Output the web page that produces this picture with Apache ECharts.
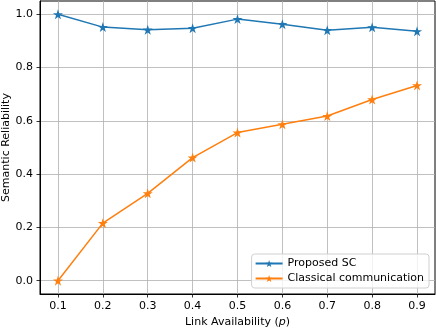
<!DOCTYPE html>
<html>
<head>
<meta charset="utf-8">
<script src="https://cdn.jsdelivr.net/npm/echarts@6/dist/echarts.min.js"></script>
<style>
    html, body { margin: 0; padding: 0; background: #fff; }
    #chart { width: 436px; height: 330px; }
</style>
</head>
<body>
<div id="chart"></div>
<script>
    // link availability p
    const xData = [0.1, 0.2, 0.3, 0.4, 0.5, 0.6, 0.7, 0.8, 0.9]
    const proposedSC = [1.0, 0.952, 0.942, 0.948, 0.982, 0.963, 0.940, 0.951, 0.936]
    const classical = [0.0, 0.216, 0.328, 0.462, 0.556, 0.587, 0.618, 0.680, 0.733]
    const xTicks = [0.1, 0.2, 0.3, 0.4, 0.5, 0.6, 0.7, 0.8, 0.9]
    const yTicks = [0.0, 0.2, 0.4, 0.6, 0.8, 1.0]

    const star = 'path://M50 0 L61.23 34.55 L97.55 34.55 L68.17 55.9 L79.39 90.45 L50 69.1 L20.61 90.45 L31.83 55.9 L2.45 34.55 L38.77 34.55 Z'
    const font = 'DejaVu Sans'
    const fs = 11

    function pairs(xs, ys) {
        return xs.map((x, i) => [x, ys[i]])
    }

    const axisCommon = {
        axisLine: { show: true, onZero: false, lineStyle: { color: '#000', width: 1 } },
        axisTick: { show: true, inside: false, length: 3.5, lineStyle: { color: '#000', width: 0.8 } },
        splitLine: { show: true, lineStyle: { color: '#b0b0b0', width: 0.8 } },
        axisLabel: { color: '#000', fontFamily: font, fontSize: fs, formatter: v => v.toFixed(1) },
        nameTextStyle: { color: '#000', fontFamily: font, fontSize: fs }
    }

    const options = {
        animation: false,
        textStyle: { fontFamily: font },
        grid: {
            left: 40, right: 1, top: 1, bottom: 36,
            containLabel: false,
            outerBoundsMode: 'none',
            show: true, borderColor: '#000', borderWidth: 1
        },
        legend: {
            orient: 'vertical',
            right: 7,
            bottom: 42,
            itemWidth: 27,
            itemHeight: 9,
            itemGap: 4,
            padding: [4, 5, 4, 3],
            backgroundColor: 'rgba(255,255,255,0.8)',
            borderColor: '#d0d0d0',
            borderWidth: 1,
            borderRadius: 3,
            textStyle: { color: '#000', fontFamily: font, fontSize: fs },
            data: ['Proposed SC', 'Classical communication']
        },
        xAxis: Object.assign({}, axisCommon, {
            type: 'value',
            min: 0.06,
            max: 0.94,
            name: 'Link Availability ({i|p})',
            nameLocation: 'middle',
            nameGap: 22,
            nameTextStyle: Object.assign({}, axisCommon.nameTextStyle, {
                rich: { i: { fontStyle: 'italic', fontFamily: font, fontSize: fs, color: '#000' } }
            }),
            axisTick: Object.assign({}, axisCommon.axisTick, { customValues: xTicks }),
            axisLabel: Object.assign({}, axisCommon.axisLabel, { customValues: xTicks, margin: 7 })
        }),
        yAxis: Object.assign({}, axisCommon, {
            type: 'value',
            min: -0.05,
            max: 1.05,
            name: 'Semantic Reliability',
            nameLocation: 'middle',
            nameGap: 28,
            nameMoveOverlap: false,
            axisTick: Object.assign({}, axisCommon.axisTick, { customValues: yTicks }),
            axisLabel: Object.assign({}, axisCommon.axisLabel, { customValues: yTicks, margin: 7 })
        }),
        color: ['#1f77b4', '#ff7f0e'],
        series: [
            {
                name: 'Proposed SC',
                type: 'line',
                data: pairs(xData, proposedSC),
                symbol: star,
                symbolSize: 10,
                lineStyle: { width: 1.5 },
                z: 3
            },
            {
                name: 'Classical communication',
                type: 'line',
                data: pairs(xData, classical),
                symbol: star,
                symbolSize: 10,
                lineStyle: { width: 1.5 },
                z: 3
            }
        ]
    }

    const echart = echarts.init(document.getElementById('chart'), null, { renderer: 'canvas' })
    echart.setOption(options)
</script>
</body>
</html>
